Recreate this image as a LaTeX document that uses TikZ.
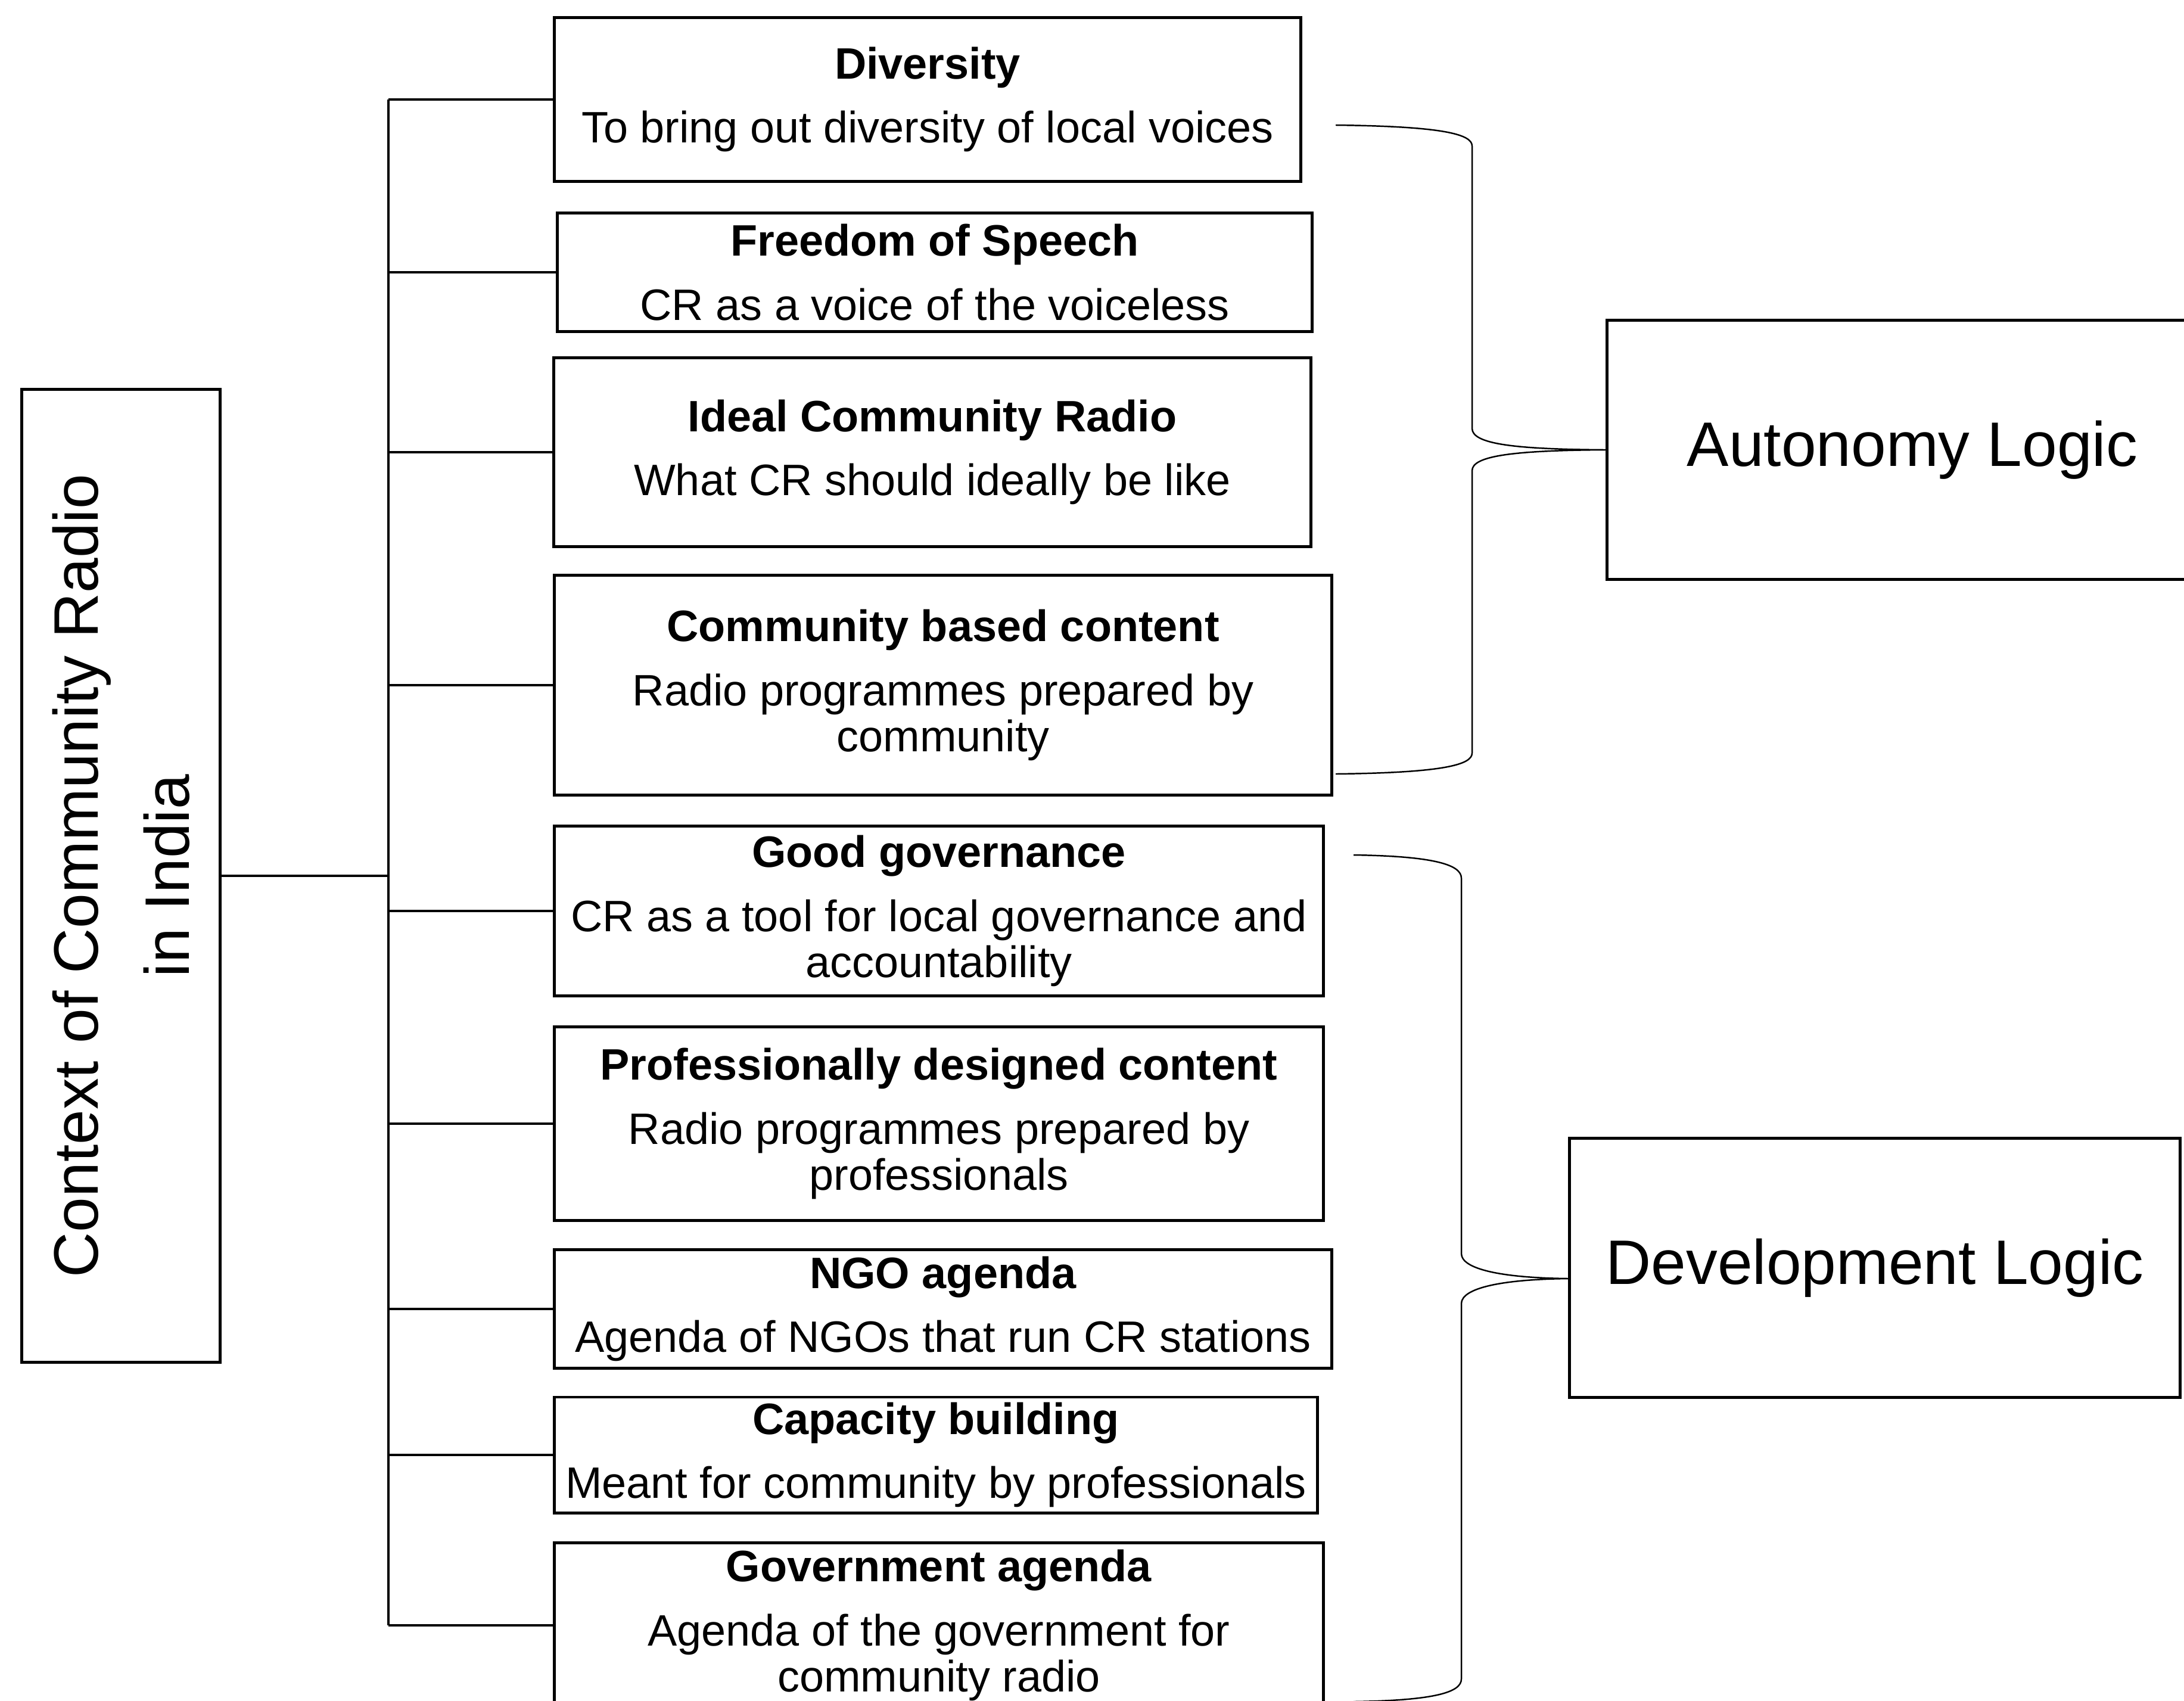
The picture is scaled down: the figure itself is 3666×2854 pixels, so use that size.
\documentclass[tikz,border=0pt]{standalone}
\usepackage{fontspec}
\setmainfont{Liberation Sans}
\begin{document}
\begin{tikzpicture}[x=0.01cm, y=-0.01cm,
		item/.style={draw, line width=1.4pt, inner sep=0pt, align=center, font=\fontsize{21}{22}\selectfont},
		logic/.style={draw, line width=1.4pt, minimum width=10.24cm, minimum height=4.35cm, font=\fontsize{30}{36}\selectfont},
		link/.style={line width=1.4pt},
		brace/.style={line width=0.7pt}]
		\useasboundingbox (0,0) rectangle (3666,2854);
		\clip (0,0) rectangle (3666,2854);
		\node[draw, line width=1.4pt, rotate=90, minimum width=16.32cm, minimum height=3.32cm, align=center,
			font=\fontsize{30}{43.5}\selectfont] (ctx) at (203,1470) {Context of Community Radio\\in India};
		\coordinate (spine) at (652,1470);
		\node[item, minimum width=12.53cm, minimum height=2.74cm] (div) at (1557,167) {\textbf{Diversity}\\[8.5pt]To bring out diversity of local voices};
		\node[item, minimum width=12.67cm, minimum height=1.99cm] (free) at (1569,457) {\textbf{Freedom of Speech}\\[8.5pt]CR as a voice of the voiceless};
		\node[item, minimum width=12.70cm, minimum height=3.16cm] (ideal) at (1565,759) {\textbf{Ideal Community Radio}\\[8.5pt]What CR should ideally be like};
		\node[item, minimum width=13.05cm, minimum height=3.69cm] (comm) at (1583,1150) {\textbf{Community based content}\\[8.5pt]Radio programmes prepared by\\community};
		\node[item, minimum width=12.91cm, minimum height=2.85cm] (gov) at (1576,1529) {\textbf{Good governance}\\[8.5pt]CR as a tool for local governance and\\accountability};
		\node[item, minimum width=12.91cm, minimum height=3.25cm] (prof) at (1576,1886) {\textbf{Professionally designed content}\\[8.5pt]Radio programmes prepared by\\professionals};
		\node[item, minimum width=13.05cm, minimum height=1.99cm] (ngo) at (1583,2197) {\textbf{NGO agenda}\\[8.5pt]Agenda of NGOs that run CR stations};
		\node[item, minimum width=12.81cm, minimum height=1.94cm] (cap) at (1571,2442) {\textbf{Capacity building}\\[8.5pt]Meant for community by professionals};
		\node[item, minimum width=12.91cm, minimum height=2.76cm] (govt) at (1576,2728) {\textbf{Government agenda}\\[8.5pt]Agenda of the government for\\community radio};
		\node[logic] (auto) at (3210,755) {Autonomy Logic};
		\node[logic] (dev) at (3147,2128) {Development Logic};
		% tree on the left
		\draw[link] (ctx.south) -- (spine);
		\draw[link] (spine |- div.west) -- (spine |- govt.west);
		\foreach \n in {div,free,ideal,comm,gov,prof,ngo,cap,govt}
			\draw[link] (spine |- \n.west) -- (\n.west);
		% braces
		\coordinate (autotop) at (2242,210);
		\coordinate (autobot) at (2242,1299);
		\coordinate (devtop) at (2272,1435);
		\coordinate (devbot) at (2272,2856);
		\coordinate (devtip) at (2635,2146);
		\draw[brace] (autotop) .. controls (2420,212) and (2471,225) .. (2471,245) -- (2471,719)
			.. controls (2471,745) and (2540,754) .. (auto.west)
			.. controls (2540,756) and (2471,765) .. (2471,790) -- (2471,1264)
			.. controls (2471,1284) and (2420,1297) .. (autobot);
		\draw[brace] (devtop) .. controls (2410,1437) and (2453,1452) .. (2453,1474) -- (2453,2104)
			.. controls (2453,2130) and (2520,2145) .. (devtip)
			.. controls (2520,2147) and (2453,2162) .. (2453,2188) -- (2453,2818)
			.. controls (2453,2840) and (2410,2854) .. (devbot);
	%
\end{tikzpicture}
\end{document}
